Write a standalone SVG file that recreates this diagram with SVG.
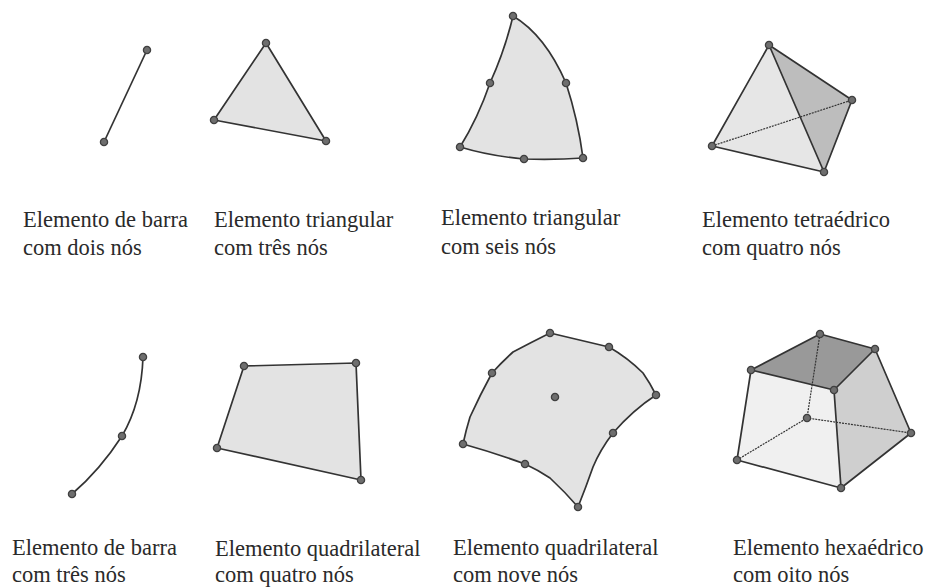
<svg xmlns="http://www.w3.org/2000/svg" width="928" height="587" viewBox="0 0 928 587">
<style>
.e{fill:none;stroke:#333;stroke-width:1.7;stroke-linejoin:round}
.f{stroke:#333;stroke-width:1.7;stroke-linejoin:round}
.h{fill:none;stroke:#333;stroke-width:1.2;stroke-dasharray:2 1}
.n{fill:#6e6e6e;stroke:#404040;stroke-width:1.3}
text{font-family:"Liberation Serif","Times New Roman",serif;font-size:22.5px;fill:#2a2a2a}
</style>
<defs><circle id="d" r="3.6" class="n"/></defs>
<rect width="928" height="587" fill="#fff"/>
<g id="bar2">
<path class="e" d="M104 142L147 50"/>
<use href="#d" x="147" y="50"/><use href="#d" x="104" y="142"/>
<text x="23" y="227">Elemento de barra</text><text x="23" y="255">com dois nós</text>
</g>
<g id="tri3">
<path class="f" fill="#e3e3e3" d="M266 43L326 141L214 120Z"/>
<use href="#d" x="266" y="43"/><use href="#d" x="326" y="141"/><use href="#d" x="214" y="120"/>
<text x="214" y="227">Elemento triangular</text><text x="214" y="255">com três nós</text>
</g>
<g id="tri6">
<path class="f" fill="#e3e3e3" d="M513 16Q505 50 490 83Q478 118 460 147Q490 156 524 159Q555 160 583 158Q578 120 566 83Q545 35 513 16Z"/>
<use href="#d" x="513" y="16"/><use href="#d" x="490" y="83"/><use href="#d" x="566" y="83"/><use href="#d" x="460" y="147"/><use href="#d" x="524" y="159"/><use href="#d" x="583" y="158"/>
<text x="441" y="225">Elemento triangular</text><text x="441" y="254">com seis nós</text>
</g>
<g id="tetra">
<path fill="#e6e6e6" d="M769 45L712 146L824 172Z"/>
<path fill="#bdbdbd" d="M769 45L852 100L824 172Z"/>
<path class="e" d="M769 45L852 100L824 172L712 146ZM769 45L824 172"/>
<path class="h" d="M712 146L852 100"/>
<use href="#d" x="769" y="45"/><use href="#d" x="852" y="100"/><use href="#d" x="824" y="172"/><use href="#d" x="712" y="146"/>
<text x="702" y="227">Elemento tetraédrico</text><text x="702" y="255">com quatro nós</text>
</g>
<g id="bar3">
<path class="e" d="M143 357Q141.500 403 122 436Q100 470 72 494"/>
<use href="#d" x="143" y="357"/><use href="#d" x="122" y="436"/><use href="#d" x="72" y="494"/>
<text x="12" y="555">Elemento de barra</text><text x="12" y="582">com três nós</text>
</g>
<g id="quad4">
<path class="f" fill="#e3e3e3" d="M244 366L356 363L361 480L217 448Z"/>
<use href="#d" x="244" y="366"/><use href="#d" x="356" y="363"/><use href="#d" x="361" y="480"/><use href="#d" x="217" y="448"/>
<text x="215" y="556">Elemento quadrilateral</text><text x="215" y="582">com quatro nós</text>
</g>
<g id="quad9">
<path class="f" fill="#e3e3e3" d="M550 333L609 347Q628 358 643 373Q650 383 656 395Q633 410 613 433Q600 450 593 467Q586 487 578 507Q565 492 550 478Q538 470 525 464Q495 453 463 444Q466 430 470 417Q480 395 492 373Q502 362 513 352Q532 342 550 333Z"/>
<use href="#d" x="550" y="333"/><use href="#d" x="609" y="347"/><use href="#d" x="656" y="395"/><use href="#d" x="613" y="433"/><use href="#d" x="578" y="507"/><use href="#d" x="525" y="464"/><use href="#d" x="463" y="444"/><use href="#d" x="492" y="373"/><use href="#d" x="555" y="397"/>
<text x="453" y="555">Elemento quadrilateral</text><text x="453" y="582">com nove nós</text>
</g>
<g id="hexa">
<path fill="#f0f0f0" d="M751 370L834 390L841 488L737 460Z"/>
<path fill="#cfcfcf" d="M875 349L911 433L841 488L834 390Z"/>
<path fill="#999" d="M751 370L820 334L875 349L834 390Z"/>
<path class="e" d="M751 370L820 334L875 349L911 433L841 488L737 460ZM751 370L834 390L875 349M834 390L841 488"/>
<path class="h" d="M820 334L807 418M737 460L807 418L911 433"/>
<use href="#d" x="751" y="370"/><use href="#d" x="820" y="334"/><use href="#d" x="875" y="349"/><use href="#d" x="834" y="390"/><use href="#d" x="807" y="418"/><use href="#d" x="911" y="433"/><use href="#d" x="841" y="488"/><use href="#d" x="737" y="460"/>
<text x="733" y="555">Elemento hexaédrico</text><text x="733" y="582">com oito nós</text>
</g>
</svg>
